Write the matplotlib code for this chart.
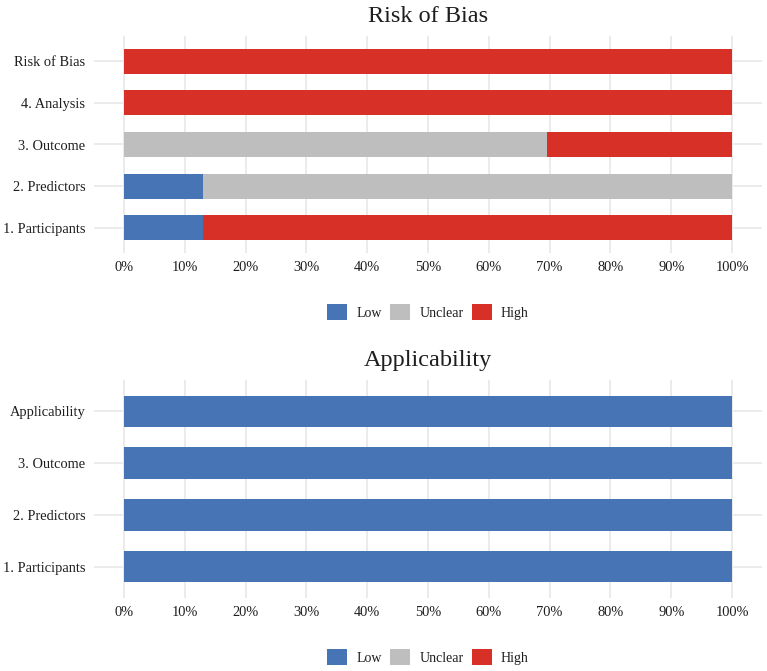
import matplotlib
matplotlib.use("Agg")
import matplotlib.pyplot as plt
from matplotlib.patches import Patch

plt.rcParams['font.family'] = ['Liberation Serif', 'DejaVu Serif']

# data (percent of 23 studies)
rob_domains = ["1. Participants", "2. Predictors", "3. Outcome", "4. Analysis", "Risk of Bias"]
rob_low = [13.04, 13.04, 0, 0, 0]
rob_unclear = [0, 86.96, 69.57, 0, 0]
rob_high = [86.96, 0, 30.43, 100, 100]

app_domains = ["1. Participants", "2. Predictors", "3. Outcome", "Applicability"]
app_low = [100, 100, 100, 100]
app_unclear = [0, 0, 0, 0]
app_high = [0, 0, 0, 0]

levels = ["Low", "Unclear", "High"]
colors = ["#4674b5", "#bebebe", "#d73027"]
xticks = list(range(0, 101, 10))
grid_color = "#ebebeb"
text_color = "#1e1e1e"


def draw_panel(ax, title, domains, low, unclear, high):
    ypos = list(range(len(domains)))
    left = [0] * len(domains)
    for vals, col in zip([low, unclear, high], colors):
        ax.barh(ypos, vals, left=left, height=0.6, color=col, linewidth=0, zorder=2)
        left = [a + b for a, b in zip(left, vals)]
    ax.set_xlim(-5, 105)
    ax.set_ylim(-0.6, len(domains) - 0.4)
    ax.set_yticks(ypos)
    ax.set_yticklabels(domains)
    ax.set_xticks(xticks)
    ax.set_xticklabels([f"{t}%" for t in xticks])
    ax.tick_params(length=0, labelsize=10.4, labelcolor=text_color, pad=6)
    ax.grid(True, color=grid_color, linewidth=1.4, zorder=0)
    ax.set_axisbelow(True)
    for s in ax.spines.values():
        s.set_visible(False)
    ax.set_title(title, fontsize=17.5, color=text_color, pad=10)


fig = plt.figure(figsize=(7.67, 6.71), dpi=100)
W, H = 767, 671
ax1 = fig.add_axes([93.6 / W, 1 - 253 / H, 668.8 / W, 217 / H])
ax2 = fig.add_axes([93.6 / W, 1 - 598 / H, 668.8 / W, 218 / H])

draw_panel(ax1, "Risk of Bias", rob_domains, rob_low, rob_unclear, rob_high)
draw_panel(ax2, "Applicability", app_domains, app_low, app_unclear, app_high)

handles = [Patch(facecolor=c, edgecolor='none', label=l) for c, l in zip(colors, levels)]
for ycen in [312, 657]:
    fig.legend(handles=handles, loc='center', bbox_to_anchor=(428 / W, 1 - ycen / H),
               ncol=3, frameon=False, fontsize=10, handlelength=1.45, handleheight=1.45,
               handletextpad=0.65, columnspacing=0.6, labelcolor=text_color)

fig.savefig("out.png", dpi=100)
